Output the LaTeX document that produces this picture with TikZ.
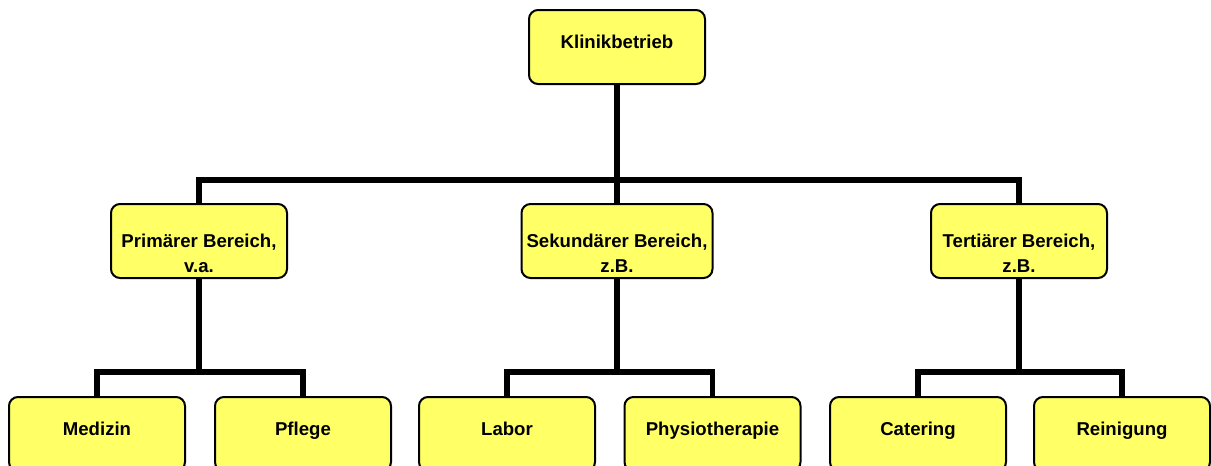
\documentclass[tikz,border=0pt]{standalone}
\usepackage{fontspec}
\setmainfont{Liberation Sans}
\usepackage{tikz}
\definecolor{ffff66}{rgb}{1.,1.,0.4}
\newcommand{\twolines}[2]{\begin{tabular}[t]{@{}c@{}}#1\\[0.4pt]#2\end{tabular}}
\tikzstyle{every node}=[font=\fontsize{9.3}{11.7}\selectfont\bfseries]
\tikzstyle{unit}=[draw=black,line width=1pt,fill=ffff66,rounded corners=4.5pt,minimum width=88pt,minimum height=37pt,inner sep=0pt,text height=7pt,text depth=5.3pt]
\tikzstyle{area}=[unit,text height=6.8pt,text depth=0pt]
\tikzstyle{link}=[line width=2.6pt]
\begin{document}
\begin{tikzpicture}[line cap=butt,line join=miter,x=0.5pt,y=-0.5pt]
            \clip(0,0) rectangle (1211,466);
            \coordinate (bus) at (617,180);
            \coordinate (bus1) at (199,372);
            \coordinate (bus2) at (617,372);
            \coordinate (bus3) at (1019,372);
            \node [unit] (klinik) at (617,47) {Klinikbetrieb};
            \node [area] (prim) at (199,241) {\twolines{Primärer Bereich,}{v.a.}};
            \node [area,minimum width=95.5pt] (sek) at (617,241) {\twolines{Sekundärer Bereich,}{z.B.}};
            \node [area] (tert) at (1019,241) {\twolines{Tertiärer Bereich,}{z.B.}};
            \draw [link] (klinik.south) -- (bus);
            \draw [link] (bus) -| (prim.north);
            \draw [link] (bus) -- (sek.north);
            \draw [link] (bus) -| (tert.north);
            \draw [link] (prim.south) -- (bus1);
            \draw [link] (sek.south) -- (bus2);
            \draw [link] (tert.south) -- (bus3);
            \node [unit] (medizin) at (97,434) {Medizin};
            \node [unit] (pflege) at (303,434) {Pflege};
            \node [unit] (labor) at (507,434) {Labor};
            \node [unit] (physio) at (712.5,434) {Physiotherapie};
            \node [unit] (catering) at (918,434) {Catering};
            \node [unit] (reinigung) at (1122,434) {Reinigung};
            \draw [link] (bus1) -| (medizin.north);
            \draw [link] (bus1) -| (pflege.north);
            \draw [link] (bus2) -| (labor.north);
            \draw [link] (bus2) -| (physio.north);
            \draw [link] (bus3) -| (catering.north);
            \draw [link] (bus3) -| (reinigung.north);
\end{tikzpicture}
\end{document}
